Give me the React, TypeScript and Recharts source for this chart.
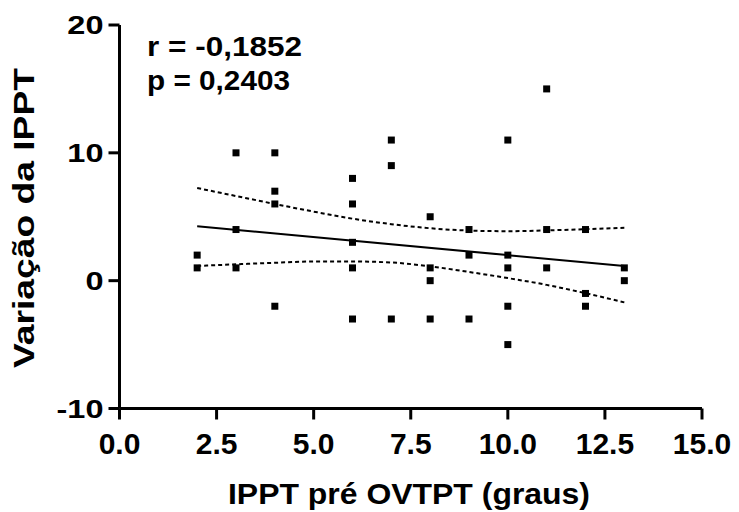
import React from "react";
import { ComposedChart, XAxis, YAxis, Scatter, Line } from "recharts";

const xTicks = [0, 2.5, 5, 7.5, 10, 12.5, 15];
const yTicks = [-10, 0, 10, 20];

const pointX = [2, 2, 3, 3, 3, 4, 4, 4, 4, 6, 6, 6, 6, 6, 7, 7, 7, 8, 8, 8, 8, 9, 9, 9, 10, 10, 10, 10, 10, 11, 11, 11, 12, 12, 12, 13, 13];
const pointY = [2, 1, 10, 4, 1, 10, 7, 6, -2, 8, 6, 3, 1, -3, 11, 9, -3, 5, 1, 0, -3, 4, 2, -3, 11, 2, 1, -2, -5, 15, 4, 1, 4, -1, -2, 1, 0];

const fitX = [2, 13];
const fitY = [4.25, 1.15];

const bandX = [2, 3, 4, 5, 6, 7, 8, 9, 10, 11, 12, 13];
const bandUpper = [7.25, 6.62, 6.0, 5.4, 4.85, 4.42, 4.1, 3.92, 3.87, 3.93, 4.03, 4.13];
const bandLower = [1.15, 1.28, 1.4, 1.5, 1.5, 1.42, 1.12, 0.68, 0.2, -0.33, -0.98, -1.7];

const rText = "r = -0,1852";
const pText = "p = 0,2403";
const xTitle = "IPPT pré OVTPT (graus)";
const yTitle = "Variação da IPPT";

const points = pointX.map((x, i) => ({ x, y: pointY[i] }));
const fit = fitX.map((x, i) => ({ x, y: fitY[i] }));
const upper = bandX.map((x, i) => ({ x, y: bandUpper[i] }));
const lower = bandX.map((x, i) => ({ x, y: bandLower[i] }));

const FONT = "'Liberation Sans', Arial, Helvetica, sans-serif";

const Square = (props: any) => {
  const { cx, cy } = props;
  if (cx == null || cy == null) return null;
  return <rect x={cx - 3.5} y={cy - 3.5} width={7} height={7} fill="#000" />;
};

const renderXTick = (props: any) => {
  const { x, y, payload } = props;
  return (
    <g key={`xt-${payload.value}`}>
      <text
        x={x}
        y={y + 34}
        textAnchor="middle"
        style={{ fontSize: 30, fontWeight: 700, fontFamily: FONT, fill: "#000" }}
      >
        {Number(payload.value).toFixed(1)}
      </text>
    </g>
  );
};

const renderYTick = (props: any) => {
  const { x, y, payload } = props;
  return (
    <g key={`yt-${payload.value}`} transform={`translate(${x} ${y}) scale(1.3 1)`}>
      <text
        x={0}
        y={9}
        textAnchor="end"
        style={{ fontSize: 25, fontWeight: 700, fontFamily: FONT, fill: "#000" }}
      >
        {String(payload.value)}
      </text>
    </g>
  );
};

export default function App() {
  return (
    <div style={{ position: "absolute", left: 0, top: 0, width: 739, height: 512, background: "#fff" }}>
      <ComposedChart
        width={739}
        height={512}
        margin={{ top: 25, right: 37, left: 0, bottom: 0 }}
      >
        <XAxis
          type="number"
          dataKey="x"
          domain={[0, 15]}
          ticks={xTicks}
          interval={0}
          allowDataOverflow
          height={103.5}
          tickSize={11}
          tickMargin={0}
          axisLine={{ stroke: "#000", strokeWidth: 3 }}
          tickLine={{ stroke: "#000", strokeWidth: 3 }}
          tick={renderXTick}
        />
        <YAxis
          type="number"
          dataKey="y"
          domain={[-10, 20]}
          ticks={yTicks}
          interval={0}
          allowDataOverflow
          width={119.5}
          tickSize={11}
          tickMargin={5}
          axisLine={{ stroke: "#000", strokeWidth: 3 }}
          tickLine={{ stroke: "#000", strokeWidth: 3 }}
          tick={renderYTick}
        />
        <Line data={upper} dataKey="y" type="monotone" stroke="#000" strokeWidth={2} strokeDasharray="4 3" dot={false} isAnimationActive={false} />
        <Line data={lower} dataKey="y" type="monotone" stroke="#000" strokeWidth={2} strokeDasharray="4 3" dot={false} isAnimationActive={false} />
        <Line data={fit} dataKey="y" type="linear" stroke="#000" strokeWidth={2} dot={false} isAnimationActive={false} />
        <Scatter data={points} dataKey="y" shape={<Square />} isAnimationActive={false} />
      </ComposedChart>
      <svg width={739} height={512} style={{ position: "absolute", left: 0, top: 0, pointerEvents: "none" }}>
        <text x={147} y={56} fontSize={28} fontWeight={700} fontFamily={FONT} fill="#000" textLength={155} lengthAdjust="spacingAndGlyphs">{rText}</text>
        <text x={147} y={90} fontSize={28} fontWeight={700} fontFamily={FONT} fill="#000" textLength={143} lengthAdjust="spacingAndGlyphs">{pText}</text>
        <text x={228} y={504} fontSize={30} fontWeight={700} fontFamily={FONT} fill="#000" textLength={362} lengthAdjust="spacingAndGlyphs">{xTitle}</text>
        <text x={0} y={0} fontSize={29} fontWeight={700} fontFamily={FONT} fill="#000" textLength={300} lengthAdjust="spacingAndGlyphs" transform="translate(34 368) rotate(-90)">{yTitle}</text>
      </svg>
    </div>
  );
}
